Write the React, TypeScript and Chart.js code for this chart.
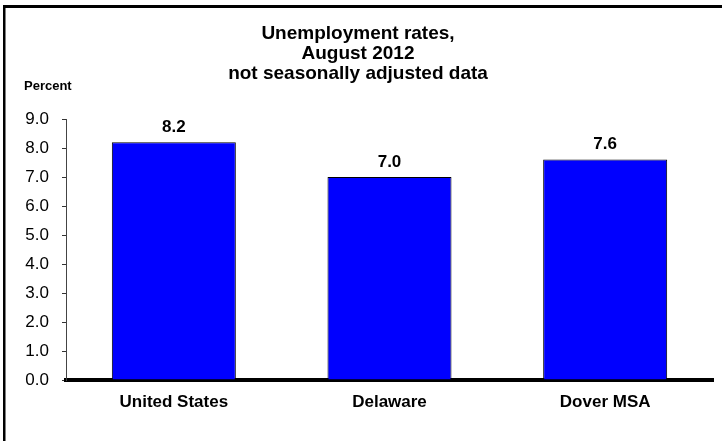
import React, { useEffect, useRef } from "react";
import { Chart, registerables } from "chart.js";

Chart.register(...registerables);

const categories: string[] = ["United States", "Delaware", "Dover MSA"];
const rates: number[] = [8.2, 7.0, 7.6];
const titleLines: string[] = ["Unemployment rates,", "August 2012", "not seasonally adjusted data"];
const yAxisTitle = "Percent";
const yMin = 0;
const yMax = 9;
const yStep = 1;

const FONT = '"Liberation Sans", Arial, Helvetica, sans-serif';

const decorPlugin = {
  id: "decor",
  afterDraw(chart: any) {
    const ctx = chart.ctx as CanvasRenderingContext2D;
    ctx.save();
    // frame (top and left lines)
    ctx.fillStyle = "#000";
    ctx.fillRect(3, 5, chart.width - 3, 3);
    ctx.fillRect(3, 5, 2.5, chart.height - 5);

    // title
    ctx.fillStyle = "#000";
    ctx.textAlign = "center";
    ctx.textBaseline = "alphabetic";
    ctx.font = `bold 19px ${FONT}`;
    const baselines = [39, 59, 79];
    titleLines.forEach((t, i) => ctx.fillText(t, 358, baselines[i]));

    // y-axis title
    ctx.textAlign = "left";
    ctx.font = `bold 13px ${FONT}`;
    ctx.fillText(yAxisTitle, 24, 90);

    // value labels
    ctx.textAlign = "center";
    ctx.font = `bold 17px ${FONT}`;
    const meta = chart.getDatasetMeta(0);
    meta.data.forEach((bar: any, i: number) => {
      ctx.fillText(rates[i].toFixed(1), bar.x, bar.y - 10.5);
    });
    ctx.restore();
  },
};

export default function App() {
  const canvasRef = useRef<HTMLCanvasElement | null>(null);

  useEffect(() => {
    document.body.style.margin = "0";
    const canvas = canvasRef.current;
    if (!canvas) return;
    const chart = new Chart(canvas, {
      type: "bar",
      data: {
        labels: categories,
        datasets: [
          {
            data: rates,
            backgroundColor: "#0000FF",
            borderColor: "#000000",
            borderWidth: 1,
            barPercentage: 0.575,
            categoryPercentage: 1,
          },
        ],
      },
      options: {
        responsive: false,
        animation: false,
        layout: { padding: { top: 119, left: 0, right: 9, bottom: 0 } },
        plugins: {
          legend: { display: false },
          title: { display: false },
          tooltip: { enabled: false },
        },
        scales: {
          x: {
            grid: { display: false, drawTicks: false },
            border: { display: true, color: "#000", width: 4 },
            ticks: {
              color: "#000",
              padding: 12,
              font: { family: FONT, size: 17, weight: "bold" },
            },
            afterFit(scale: any) {
              scale.height = 61;
            },
          },
          y: {
            min: yMin,
            max: yMax,
            grid: {
              drawOnChartArea: false,
              drawTicks: true,
              tickLength: 4,
              color: "#333",
            },
            border: { display: true, color: "#444", width: 1 },
            ticks: {
              stepSize: yStep,
              color: "#000",
              padding: 13,
              font: { family: FONT, size: 17 },
              callback: (v: any) => Number(v).toFixed(1),
            },
            afterFit(scale: any) {
              scale.width = 66;
            },
          },
        },
      },
      plugins: [decorPlugin],
    });
    return () => chart.destroy();
  }, []);

  return (
    <div style={{ width: 722, height: 441, background: "#fff" }}>
      <canvas ref={canvasRef} width={722} height={441} />
    </div>
  );
}
